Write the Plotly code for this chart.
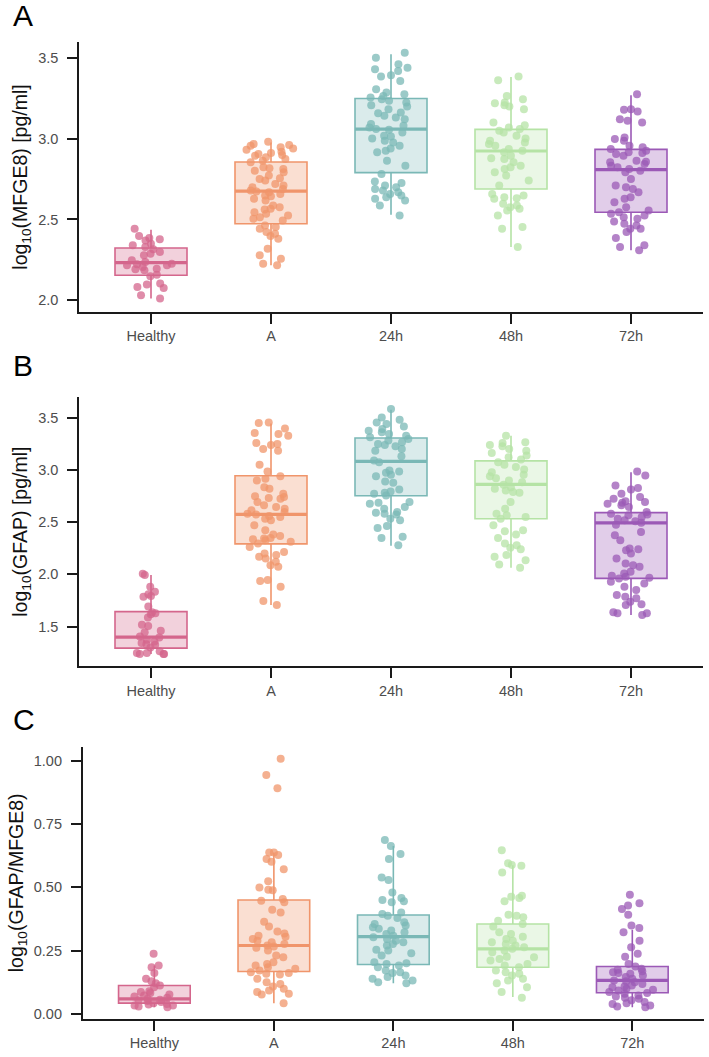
import plotly.graph_objects as go

W, H = 709, 1057

categories = ["Healthy", "A", "24h", "48h", "72h"]
line_colors = ["#D4668C", "#F0956B", "#7AB8B6", "#B5E3A5", "#9B59B6"]
fill_colors = ["rgba(212,102,140,0.30)", "rgba(240,149,107,0.30)", "rgba(122,184,182,0.28)",
               "rgba(181,227,165,0.28)", "rgba(155,89,182,0.30)"]

# ---------------- Panel A: log10(MFGE8) ----------------
mfge8_healthy = [2.442, 2.397, 2.385, 2.377, 2.370, 2.350, 2.340, 2.329, 2.315, 2.298, 2.288, 2.278,
                 2.247, 2.237, 2.226, 2.222, 2.216, 2.216, 2.206, 2.195, 2.191, 2.185, 2.158, 2.148,
                 2.103, 2.097, 2.082, 2.076, 2.031, 2.010]
mfge8_a = [2.981, 2.967, 2.961, 2.957, 2.947, 2.940, 2.932, 2.920, 2.912, 2.905, 2.899, 2.895, 2.885,
           2.874, 2.864, 2.854, 2.823, 2.817, 2.813, 2.802, 2.792, 2.772, 2.755, 2.751, 2.741, 2.720,
           2.710, 2.700, 2.689, 2.679, 2.673, 2.669, 2.658, 2.648, 2.644, 2.628, 2.617, 2.586, 2.576,
           2.566, 2.562, 2.545, 2.535, 2.525, 2.514, 2.504, 2.494, 2.463, 2.453, 2.442, 2.422, 2.412,
           2.397, 2.381, 2.319, 2.278, 2.257, 2.226, 2.216]
mfge8_24h = [3.533, 3.502, 3.461, 3.440, 3.430, 3.420, 3.393, 3.385, 3.358, 3.307, 3.286, 3.276, 3.265,
             3.255, 3.245, 3.235, 3.224, 3.208, 3.200, 3.183, 3.163, 3.158, 3.142, 3.132, 3.121, 3.091,
             3.080, 3.070, 3.060, 3.056, 3.039, 3.019, 3.014, 3.002, 2.988, 2.977, 2.957, 2.940, 2.926,
             2.916, 2.864, 2.833, 2.782, 2.735, 2.726, 2.710, 2.700, 2.689, 2.679, 2.669, 2.658, 2.648,
             2.638, 2.628, 2.617, 2.586, 2.525]
mfge8_48h = [3.385, 3.362, 3.265, 3.245, 3.224, 3.220, 3.208, 3.200, 3.183, 3.101, 3.084, 3.070, 3.060,
             3.049, 3.039, 3.019, 3.002, 2.988, 2.977, 2.967, 2.957, 2.936, 2.926, 2.916, 2.895, 2.879,
             2.874, 2.854, 2.833, 2.823, 2.813, 2.792, 2.772, 2.741, 2.710, 2.658, 2.648, 2.638, 2.632,
             2.628, 2.597, 2.586, 2.576, 2.566, 2.556, 2.525, 2.453, 2.442, 2.329]
mfge8_72h = [3.276, 3.183, 3.179, 3.169, 3.121, 3.111, 3.101, 3.008, 2.998, 2.988, 2.957, 2.947, 2.936,
             2.926, 2.916, 2.912, 2.905, 2.895, 2.864, 2.858, 2.854, 2.844, 2.833, 2.823, 2.813, 2.802,
             2.792, 2.751, 2.710, 2.700, 2.689, 2.669, 2.638, 2.628, 2.607, 2.576, 2.556, 2.545, 2.535,
             2.525, 2.514, 2.504, 2.488, 2.473, 2.463, 2.442, 2.442, 2.422, 2.385, 2.340, 2.329, 2.309]
# box statistics: lower whisker, Q1, median, Q3, upper whisker
mfge8_lower = [2.010, 2.216, 2.529, 2.329, 2.309]
mfge8_q1 = [2.154, 2.473, 2.790, 2.689, 2.545]
mfge8_med = [2.233, 2.675, 3.060, 2.924, 2.809]
mfge8_q3 = [2.323, 2.856, 3.249, 3.058, 2.934]
mfge8_upper = [2.436, 2.977, 3.523, 3.383, 3.270]

# ---------------- Panel B: log10(GFAP) ----------------
gfap_healthy = [2.006, 1.993, 1.882, 1.834, 1.808, 1.793, 1.786, 1.691, 1.637, 1.627, 1.618, 1.586,
                1.516, 1.506, 1.459, 1.446, 1.405, 1.395, 1.373, 1.357, 1.341, 1.331, 1.325, 1.300,
                1.262, 1.246, 1.246, 1.236, 1.236, 1.236]
gfap_a = [3.455, 3.449, 3.398, 3.354, 3.344, 3.328, 3.258, 3.249, 3.239, 3.201, 3.185, 3.049, 2.985,
          2.940, 2.915, 2.899, 2.835, 2.820, 2.772, 2.749, 2.740, 2.731, 2.724, 2.692, 2.661, 2.645,
          2.629, 2.613, 2.597, 2.581, 2.572, 2.559, 2.549, 2.533, 2.517, 2.470, 2.422, 2.381, 2.368,
          2.349, 2.343, 2.336, 2.327, 2.311, 2.295, 2.263, 2.215, 2.199, 2.184, 2.168, 2.152, 2.120,
          2.088, 2.072, 1.945, 1.936, 1.882, 1.745, 1.707]
gfap_24h = [3.583, 3.503, 3.481, 3.455, 3.440, 3.417, 3.392, 3.376, 3.360, 3.344, 3.328, 3.312, 3.297,
            3.281, 3.265, 3.249, 3.239, 3.227, 3.201, 3.185, 3.131, 3.090, 3.074, 2.994, 2.985, 2.972,
            2.953, 2.940, 2.890, 2.877, 2.813, 2.794, 2.781, 2.772, 2.756, 2.692, 2.686, 2.676, 2.645,
            2.629, 2.597, 2.591, 2.581, 2.572, 2.533, 2.517, 2.463, 2.444, 2.359, 2.349, 2.279]
gfap_48h = [3.328, 3.265, 3.258, 3.239, 3.227, 3.201, 3.185, 3.163, 3.138, 3.122, 3.099, 3.074, 3.049,
            3.027, 3.004, 2.979, 2.953, 2.940, 2.921, 2.899, 2.883, 2.858, 2.835, 2.820, 2.804, 2.788,
            2.781, 2.692, 2.629, 2.581, 2.565, 2.549, 2.533, 2.470, 2.422, 2.413, 2.381, 2.349, 2.295,
            2.279, 2.254, 2.241, 2.184, 2.168, 2.136, 2.095, 2.063]
gfap_72h = [2.985, 2.947, 2.851, 2.826, 2.813, 2.772, 2.740, 2.724, 2.699, 2.692, 2.686, 2.676, 2.661,
            2.645, 2.597, 2.581, 2.572, 2.565, 2.549, 2.533, 2.517, 2.508, 2.495, 2.476, 2.406, 2.374,
            2.327, 2.247, 2.241, 2.231, 2.199, 2.152, 2.104, 2.088, 2.072, 2.025, 2.009, 1.986, 1.977,
            1.967, 1.961, 1.929, 1.913, 1.882, 1.850, 1.802, 1.786, 1.770, 1.738, 1.713, 1.707, 1.637,
            1.627, 1.627, 1.611]
gfap_lower = [1.236, 1.707, 2.273, 2.063, 1.611]
gfap_q1 = [1.293, 2.292, 2.753, 2.533, 1.961]
gfap_med = [1.398, 2.575, 3.083, 2.861, 2.492]
gfap_q3 = [1.643, 2.944, 3.306, 3.087, 2.591]
gfap_upper = [1.993, 3.446, 3.576, 3.328, 2.979]

# ---------------- Panel C: log10(GFAP/MFGE8) ----------------
ratio_healthy = [0.237, 0.191, 0.184, 0.161, 0.138, 0.129, 0.121, 0.112, 0.105, 0.089, 0.086, 0.082,
                 0.076, 0.072, 0.068, 0.063, 0.059, 0.055, 0.053, 0.050, 0.046, 0.042, 0.039, 0.037,
                 0.033, 0.033, 0.029, 0.026]
ratio_a = [1.009, 0.945, 0.892, 0.638, 0.638, 0.628, 0.612, 0.601, 0.572, 0.524, 0.500, 0.491, 0.489,
           0.454, 0.447, 0.441, 0.411, 0.401, 0.364, 0.345, 0.325, 0.318, 0.309, 0.305, 0.296, 0.289,
           0.283, 0.276, 0.270, 0.266, 0.261, 0.250, 0.230, 0.224, 0.204, 0.197, 0.191, 0.184, 0.178,
           0.171, 0.164, 0.161, 0.158, 0.155, 0.138, 0.125, 0.118, 0.108, 0.099, 0.092, 0.086, 0.079,
           0.076, 0.042]
ratio_24h = [0.687, 0.664, 0.632, 0.612, 0.539, 0.529, 0.480, 0.458, 0.450, 0.445, 0.441, 0.401, 0.395,
             0.388, 0.379, 0.362, 0.355, 0.349, 0.342, 0.336, 0.329, 0.322, 0.316, 0.309, 0.303, 0.296,
             0.289, 0.283, 0.276, 0.270, 0.253, 0.250, 0.239, 0.230, 0.204, 0.200, 0.197, 0.191, 0.184,
             0.171, 0.164, 0.161, 0.151, 0.145, 0.138, 0.132, 0.125, 0.121]
ratio_48h = [0.647, 0.595, 0.589, 0.586, 0.559, 0.467, 0.463, 0.458, 0.445, 0.392, 0.388, 0.382, 0.368,
             0.355, 0.345, 0.322, 0.316, 0.305, 0.296, 0.289, 0.283, 0.276, 0.270, 0.263, 0.257, 0.250,
             0.243, 0.226, 0.224, 0.217, 0.211, 0.197, 0.191, 0.184, 0.171, 0.164, 0.158, 0.151, 0.138,
             0.132, 0.121, 0.105, 0.086, 0.063]
ratio_72h = [0.471, 0.437, 0.428, 0.414, 0.392, 0.349, 0.339, 0.322, 0.289, 0.263, 0.237, 0.226, 0.197,
             0.187, 0.178, 0.174, 0.168, 0.164, 0.161, 0.158, 0.151, 0.145, 0.138, 0.132, 0.129, 0.125,
             0.118, 0.112, 0.108, 0.105, 0.099, 0.095, 0.092, 0.086, 0.082, 0.079, 0.072, 0.068, 0.063,
             0.059, 0.053, 0.046, 0.042, 0.039, 0.033, 0.029, 0.026]
ratio_lower = [0.026, 0.042, 0.121, 0.066, 0.026]
ratio_q1 = [0.042, 0.167, 0.195, 0.184, 0.083]
ratio_med = [0.059, 0.270, 0.305, 0.257, 0.132]
ratio_q3 = [0.112, 0.450, 0.391, 0.355, 0.187]
ratio_upper = [0.191, 0.638, 0.664, 0.588, 0.332]

panels = [
    dict(points=[mfge8_healthy, mfge8_a, mfge8_24h, mfge8_48h, mfge8_72h],
         stats=(mfge8_lower, mfge8_q1, mfge8_med, mfge8_q3, mfge8_upper),
         title="log<sub>10</sub>(MFGE8) [pg/ml]", yrange=[1.926, 3.60],
         ticks=[2.0, 2.5, 3.0, 3.5], fmt=".1f",
         ydom=[1 - 313 / H, 1 - 42 / H], xdom=[79 / W, 703 / W], letter="A", lety=16),
    dict(points=[gfap_healthy, gfap_a, gfap_24h, gfap_48h, gfap_72h],
         stats=(gfap_lower, gfap_q1, gfap_med, gfap_q3, gfap_upper),
         title="log<sub>10</sub>(GFAP) [pg/ml]", yrange=[1.118, 3.70],
         ticks=[1.5, 2.0, 2.5, 3.0, 3.5], fmt=".1f",
         ydom=[1 - 668.3 / H, 1 - 398 / H], xdom=[79 / W, 703 / W], letter="B", lety=367),
    dict(points=[ratio_healthy, ratio_a, ratio_24h, ratio_48h, ratio_72h],
         stats=(ratio_lower, ratio_q1, ratio_med, ratio_q3, ratio_upper),
         title="log<sub>10</sub>(GFAP/MFGE8)", yrange=[-0.02, 1.056],
         ticks=[0.0, 0.25, 0.5, 0.75, 1.0], fmt=".2f",
         ydom=[1 - 1021.7 / H, 1 - 749 / H], xdom=[82.7 / W, 704 / W], letter="C", lety=722),
]

BOX_W = 0.6
FONT = "Liberation Sans, Arial, sans-serif"
fig = go.Figure()
layout = {}
annotations = []

for p_i, p in enumerate(panels):
    suffix = "" if p_i == 0 else str(p_i + 1)
    xa, ya = "x" + suffix, "y" + suffix
    lower, q1, med, q3, upper = p["stats"]
    for i, cat in enumerate(categories):
        # box from the read statistics
        fig.add_trace(go.Box(
            x=[i], q1=[q1[i]], median=[med[i]], q3=[q3[i]],
            lowerfence=[lower[i]], upperfence=[upper[i]],
            width=BOX_W, whiskerwidth=0, boxpoints=False,
            line=dict(color=line_colors[i], width=1.6), fillcolor=fill_colors[i],
            xaxis=xa, yaxis=ya, showlegend=False, hoverinfo="skip"))
        # thicker median bar
        fig.add_trace(go.Scatter(
            x=[i - BOX_W / 2, i + BOX_W / 2], y=[med[i], med[i]], mode="lines",
            line=dict(color=line_colors[i], width=3.2), xaxis=xa, yaxis=ya,
            showlegend=False, hoverinfo="skip"))
        # jittered sample points
        vals = p["points"][i]
        fig.add_trace(go.Box(
            x=[i] * len(vals), y=vals, width=BOX_W, boxpoints="all", jitter=0.7, pointpos=0,
            line=dict(width=0, color="rgba(0,0,0,0)"), fillcolor="rgba(0,0,0,0)",
            marker=dict(color=line_colors[i], size=8, opacity=0.75, line=dict(width=0)),
            xaxis=xa, yaxis=ya, showlegend=False, hoverinfo="skip"))
    layout["xaxis" + suffix] = dict(
        domain=p["xdom"], anchor=ya, range=[-0.6, 4.6],
        tickmode="array", tickvals=list(range(len(categories))), ticktext=categories,
        showline=True, linecolor="#1a1a1a", linewidth=1.6, ticks="outside", ticklen=10,
        tickwidth=1.6, tickcolor="#1a1a1a", showgrid=False, zeroline=False,
        tickfont=dict(family=FONT, size=14.5, color="#4d4d4d"))
    layout["yaxis" + suffix] = dict(
        domain=p["ydom"], anchor=xa, range=p["yrange"],
        tickmode="array", tickvals=p["ticks"], tickformat=p["fmt"],
        showline=True, linecolor="#1a1a1a", linewidth=1.6, ticks="outside", ticklen=10,
        tickwidth=1.6, tickcolor="#1a1a1a", showgrid=False, zeroline=False,
        ticklabelstandoff=6,
        tickfont=dict(family=FONT, size=14.5, color="#4d4d4d"),
        title=dict(text=p["title"], font=dict(family=FONT, size=19.5, color="#111111"), standoff=5))
    annotations.append(dict(
        text=p["letter"], x=11 / W, y=1 - p["lety"] / H, xref="paper", yref="paper",
        xanchor="left", yanchor="middle", showarrow=False,
        font=dict(family=FONT, size=30, color="#000000")))

fig.update_layout(
    width=W, height=H, margin=dict(l=0, r=0, t=0, b=0),
    paper_bgcolor="white", plot_bgcolor="white", boxmode="overlay",
    annotations=annotations, **layout)

fig.write_html("out.html")
